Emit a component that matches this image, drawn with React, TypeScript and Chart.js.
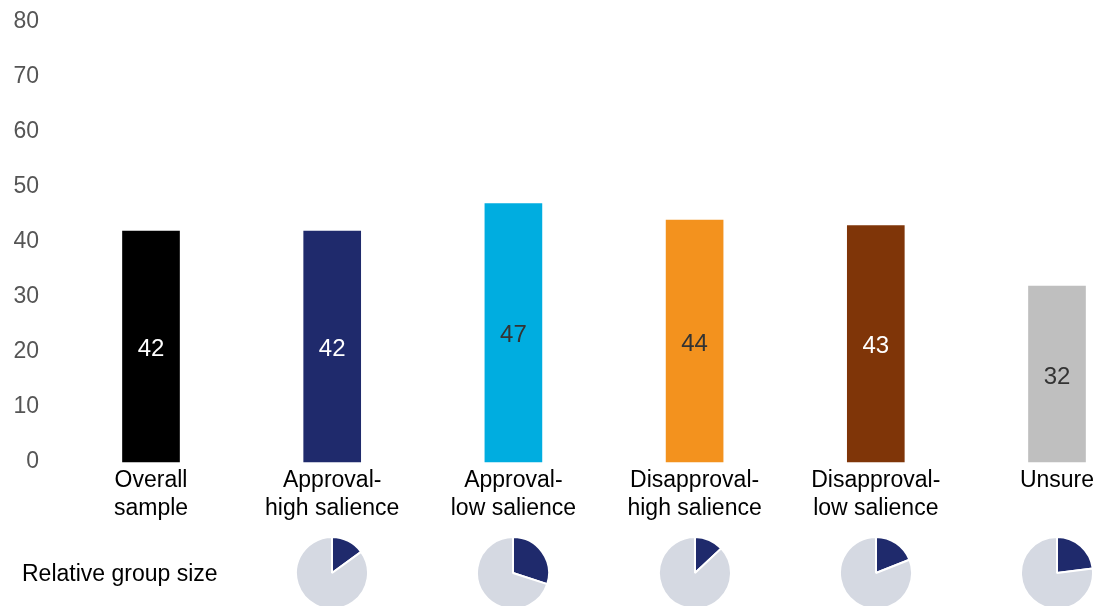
import React, { useEffect, useRef } from "react";
import { Chart, registerables } from "chart.js";

Chart.register(...registerables);

const categories: string[][] = [
  ["Overall", "sample"],
  ["Approval-", "high salience"],
  ["Approval-", "low salience"],
  ["Disapproval-", "high salience"],
  ["Disapproval-", "low salience"],
  ["Unsure"],
];
const values: number[] = [42, 42, 47, 44, 43, 32];
const barColors: string[] = ["#000000", "#1f2a6c", "#00ade0", "#f3921e", "#7f3508", "#bfbfbf"];
const labelColors: string[] = ["#ffffff", "#ffffff", "#333333", "#333333", "#ffffff", "#333333"];
const yTicks: number[] = [0, 10, 20, 30, 40, 50, 60, 70, 80];

// relative group size (share of sample, %) for groups 2..6
const groupShare: number[] = [15, 30, 13, 19, 23];
const pieColors: string[] = ["#1f2a6c", "#d5d9e2"];

const FONT = "'Liberation Sans', Arial, Helvetica, sans-serif";

const valueLabelPlugin = {
  id: "valueLabels",
  afterDatasetsDraw(chart: any) {
    const ctx = chart.ctx;
    const meta = chart.getDatasetMeta(0);
    ctx.save();
    ctx.font = `24px ${FONT}`;
    ctx.textAlign = "center";
    ctx.textBaseline = "middle";
    meta.data.forEach((el: any, i: number) => {
      const y = (el.y + el.base) / 2;
      ctx.fillStyle = labelColors[i];
      ctx.fillText(String(values[i]), el.x, y + 3);
    });
    ctx.restore();
  },
};

export default function App() {
  const barRef = useRef<HTMLCanvasElement | null>(null);
  const pieRefs = useRef<(HTMLCanvasElement | null)[]>([]);

  useEffect(() => {
    if (!barRef.current) return;
    const charts: Chart[] = [];
    const bar = new Chart(barRef.current, {
      type: "bar",
      data: {
        labels: categories,
        datasets: [
          {
            data: values,
            backgroundColor: barColors,
            borderWidth: 0,
            barThickness: 57,
            clip: false as any,
          },
        ],
      },
      options: {
        responsive: false,
        animation: false,
        clip: false as any,
        layout: { padding: { left: 0, top: 22, right: 43, bottom: 74 } },
        plugins: {
          legend: { display: false },
          tooltip: { enabled: false },
        },
        scales: {
          x: {
            offset: false,
            grid: { display: false, drawTicks: false },
            border: { display: false },
            ticks: {
              color: "#000000",
              font: { family: FONT, size: 23, lineHeight: 28 / 23 },
              padding: 5,
              maxRotation: 0,
              minRotation: 0,
              autoSkip: false,
            },
            afterFit: (scale: any) => {
              scale.height = 70;
            },
          },
          y: {
            min: 0,
            max: 80,
            afterBuildTicks: (scale: any) => {
              scale.ticks = yTicks.map((v) => ({ value: v }));
            },
            grid: { display: false, drawTicks: false },
            border: { display: false },
            ticks: {
              color: "#555555",
              font: { family: FONT, size: 23 },
              padding: 112,
            },
            afterFit: (scale: any) => {
              scale.width = 151;
              scale.paddingTop = 14;
              scale.paddingBottom = 14;
            },
          },
        },
      },
      plugins: [valueLabelPlugin],
    });
    charts.push(bar);

    groupShare.forEach((share, i) => {
      const cv = pieRefs.current[i];
      if (!cv) return;
      const cx = bar.scales.x.getPixelForValue(i + 1);
      cv.style.left = `${cx - 37}px`;
      const pie = new Chart(cv, {
        type: "pie",
        data: {
          labels: ["Group", "Rest"],
          datasets: [
            {
              data: [share, 100 - share],
              backgroundColor: pieColors,
              borderColor: "#ffffff",
              borderWidth: 2,
            },
          ],
        },
        options: {
          responsive: false,
          animation: false,
          layout: { padding: 0 },
          plugins: {
            legend: { display: false },
            tooltip: { enabled: false },
          },
        },
      });
      charts.push(pie);
    });

    return () => {
      charts.forEach((c) => c.destroy());
    };
  }, []);

  return (
    <div
      style={{
        position: "absolute",
        left: 0,
        top: 0,
        width: 1100,
        height: 606,
        overflow: "hidden",
        background: "#ffffff",
      }}
    >
      <canvas
        ref={barRef}
        width={1100}
        height={606}
        style={{ position: "absolute", left: 0, top: 0, width: 1100, height: 606 }}
      />
      <div
        style={{
          position: "absolute",
          left: 22,
          top: 559,
          fontFamily: FONT,
          fontSize: 23,
          lineHeight: "28px",
          color: "#000000",
          whiteSpace: "nowrap",
        }}
      >
        Relative group size
      </div>
      {groupShare.map((_, i) => (
        <canvas
          key={i}
          ref={(el) => {
            pieRefs.current[i] = el;
          }}
          width={74}
          height={74}
          style={{ position: "absolute", left: 0, top: 536, width: 74, height: 74 }}
        />
      ))}
    </div>
  );
}
